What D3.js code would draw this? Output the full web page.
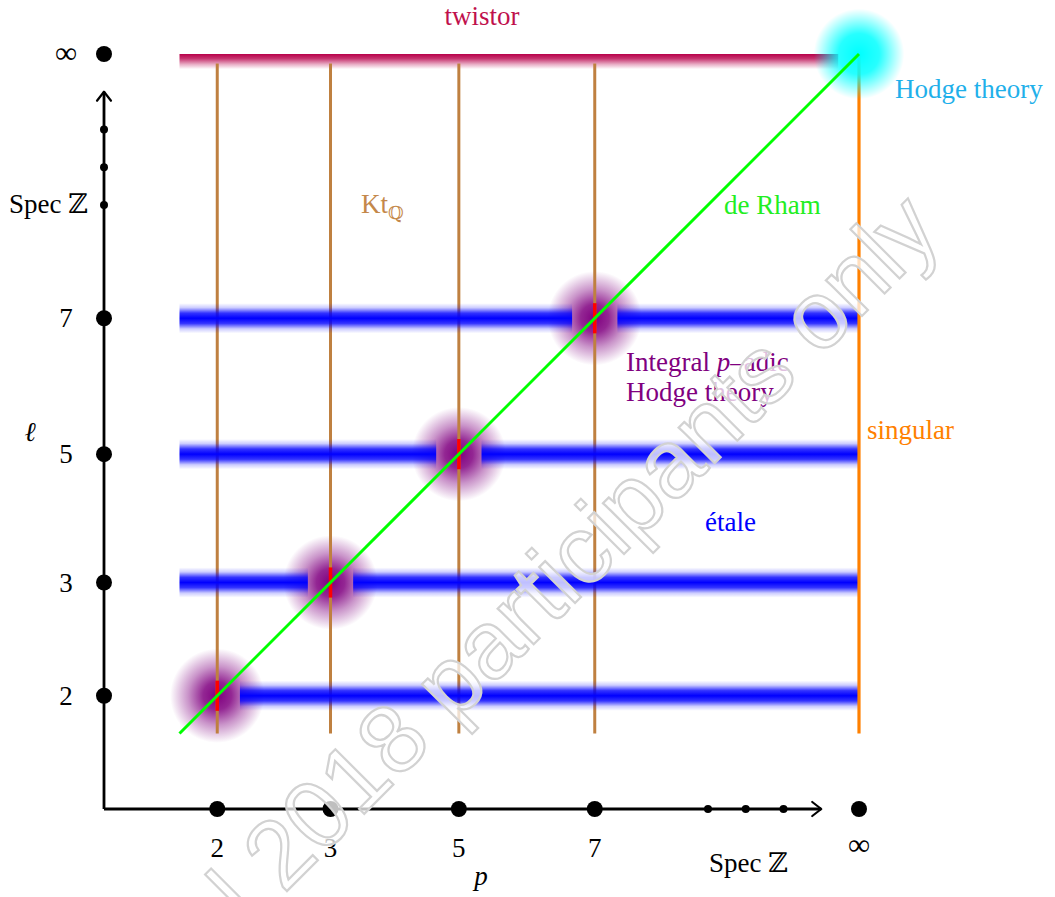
<!DOCTYPE html>
<html>
<head>
<meta charset="utf-8">
<script src="https://cdn.jsdelivr.net/npm/d3@7"></script>
<style>
  body { margin: 0; background: #fff; }
  text { font-family: "Liberation Serif", "DejaVu Serif", serif; }
</style>
</head>
<body>
<svg id="chart"></svg>
<script>
// primes on both axes and where they sit (diagram units)
var primes = ["2", "3", "5", "7"];
var primeAt = [3, 6, 9.4, 13];
var infAt = 20;
var tailDots = [16, 17, 18];
var axisEnd = 19;
var stripFrom = 2;
var twistorTo = 19.45;
var kTop = 19.75;
var gapHalf = 0.6;
var glowR = 1.25;

var screen = { width: 1055, height: 897 };

var x = d3.scaleLinear().domain([0, 20]).range([104, 859]);
var y = d3.scaleLinear().domain([0, 20]).range([809, 54]);
var u = x(1) - x(0);

var svg = d3.select("#chart")
  .attr("width", screen.width)
  .attr("height", screen.height);

var defs = svg.append("defs");

var bandGrad = defs.append("linearGradient")
  .attr("id", "band").attr("x1", 0).attr("y1", 0).attr("x2", 0).attr("y2", 1);
[[0, 0], [0.15, 0.2], [0.33, 0.8], [0.5, 1], [0.67, 0.8], [0.85, 0.2], [1, 0]].forEach(function(s){
  bandGrad.append("stop").attr("offset", s[0]).attr("stop-color", "#0000ff").attr("stop-opacity", s[1]);
});

var twGrad = defs.append("linearGradient")
  .attr("id", "tw").attr("x1", 0).attr("y1", 0).attr("x2", 0).attr("y2", 1);
[[0, 1], [0.3, 0.8], [0.7, 0.3], [1, 0]].forEach(function(s){
  twGrad.append("stop").attr("offset", s[0]).attr("stop-color", "#b8004a").attr("stop-opacity", s[1]);
});

var purp = defs.append("radialGradient").attr("id", "purp");
[[0, 1], [0.3, 0.85], [0.62, 0.42], [1, 0]].forEach(function(s){
  purp.append("stop").attr("offset", s[0]).attr("stop-color", "#800080").attr("stop-opacity", s[1]);
});

var cyan = defs.append("radialGradient").attr("id", "cyan");
[[0, 1], [0.45, 0.85], [0.8, 0.3], [1, 0]].forEach(function(s){
  cyan.append("stop").attr("offset", s[0]).attr("stop-color", "#00ffff").attr("stop-opacity", s[1]);
});

// twistor strip
svg.append("rect")
  .attr("x", x(stripFrom)).attr("y", y(infAt))
  .attr("width", x(twistorTo) - x(stripFrom))
  .attr("height", y(infAt - 0.4) - y(infAt))
  .attr("fill", "url(#tw)");

// purple glows at (l, l)
svg.selectAll(".glow")
  .data(primeAt)
  .enter().append("circle")
  .attr("class", "glow")
  .attr("cx", function(d){ return x(d); })
  .attr("cy", function(d){ return y(d); })
  .attr("r", glowR * u)
  .attr("fill", "url(#purp)");

// Kt_Q vertical lines
svg.selectAll(".kt")
  .data(primeAt)
  .enter().append("line")
  .attr("class", "kt")
  .attr("x1", function(d){ return x(d); })
  .attr("x2", function(d){ return x(d); })
  .attr("y1", y(stripFrom))
  .attr("y2", y(kTop))
  .attr("stroke", "#bf8040")
  .attr("stroke-width", 3);

// etale strips, broken around the diagonal
var pieces = [];
primeAt.forEach(function(l){
  if (l - gapHalf > stripFrom + 0.5) pieces.push([stripFrom, l - gapHalf, l]);
  pieces.push([l + gapHalf, infAt, l]);
});
svg.selectAll(".band")
  .data(pieces)
  .enter().append("rect")
  .attr("class", "band")
  .attr("x", function(d){ return x(d[0]); })
  .attr("width", function(d){ return x(d[1]) - x(d[0]); })
  .attr("y", function(d){ return y(d[2] + 0.4); })
  .attr("height", function(d){ return y(d[2] - 0.4) - y(d[2] + 0.4); })
  .attr("fill", "url(#band)");

// red ticks where p = l
svg.selectAll(".red")
  .data(primeAt)
  .enter().append("line")
  .attr("class", "red")
  .attr("x1", function(d){ return x(d); })
  .attr("x2", function(d){ return x(d); })
  .attr("y1", function(d){ return y(d - 0.4); })
  .attr("y2", function(d){ return y(d + 0.4); })
  .attr("stroke", "#ff0000")
  .attr("stroke-width", 3.5);

// singular line
svg.append("line")
  .attr("x1", x(infAt)).attr("x2", x(infAt))
  .attr("y1", y(stripFrom)).attr("y2", y(infAt))
  .attr("stroke", "#ff8000").attr("stroke-width", 3.2);

// hodge glow
svg.append("circle")
  .attr("cx", x(infAt)).attr("cy", y(infAt))
  .attr("r", 1.2 * u)
  .attr("fill", "url(#cyan)");

// de Rham diagonal
svg.append("line")
  .attr("x1", x(stripFrom)).attr("y1", y(stripFrom))
  .attr("x2", x(infAt)).attr("y2", y(infAt))
  .attr("stroke", "#00ff00").attr("stroke-width", 3);

// axes
var ax = svg.append("g").attr("stroke", "#000").attr("stroke-width", 2.8).attr("fill", "none");
ax.append("path").attr("d", "M" + x(0) + "," + y(0) + "H" + x(axisEnd) + "M" + x(0) + "," + y(0) + "V" + y(axisEnd));
ax.append("path")
  .attr("stroke-width", 2.2).attr("stroke-linecap", "round").attr("stroke-linejoin", "round")
  .attr("d", "M" + (x(axisEnd) - 9) + "," + (y(0) - 7) + "L" + x(axisEnd) + "," + y(0) + "L" + (x(axisEnd) - 9) + "," + (y(0) + 7));
ax.append("path")
  .attr("stroke-width", 2.2).attr("stroke-linecap", "round").attr("stroke-linejoin", "round")
  .attr("d", "M" + (x(0) - 7) + "," + (y(axisEnd) + 9) + "L" + x(0) + "," + y(axisEnd) + "L" + (x(0) + 7) + "," + (y(axisEnd) + 9));

var big = primeAt.concat([infAt]);
svg.selectAll(".bx").data(big).enter().append("circle")
  .attr("cx", function(d){ return x(d); }).attr("cy", y(0)).attr("r", 8).attr("fill", "#000");
svg.selectAll(".by").data(big).enter().append("circle")
  .attr("cx", x(0)).attr("cy", function(d){ return y(d); }).attr("r", 8).attr("fill", "#000");
svg.selectAll(".sx").data(tailDots).enter().append("circle")
  .attr("cx", function(d){ return x(d); }).attr("cy", y(0)).attr("r", 4).attr("fill", "#000");
svg.selectAll(".sy").data(tailDots).enter().append("circle")
  .attr("cx", x(0)).attr("cy", function(d){ return y(d); }).attr("r", 4).attr("fill", "#000");

// tick labels
var fs = 27;
svg.selectAll(".tx").data(primes).enter().append("text")
  .attr("x", function(d, i){ return x(primeAt[i]); })
  .attr("y", y(0) + 48)
  .attr("text-anchor", "middle").attr("font-size", fs)
  .text(function(d){ return d; });
svg.selectAll(".ty").data(primes).enter().append("text")
  .attr("x", 66)
  .attr("y", function(d, i){ return y(primeAt[i]) + 9; })
  .attr("text-anchor", "middle").attr("font-size", fs)
  .text(function(d){ return d; });
svg.append("text").attr("x", x(infAt)).attr("y", y(0) + 46)
  .attr("text-anchor", "middle").attr("font-size", 31).text("\u221e");
svg.append("text").attr("x", 66).attr("y", y(infAt) + 9)
  .attr("text-anchor", "middle").attr("font-size", 31).text("\u221e");

function label(tx, ty, str, col, anchor) {
  return svg.append("text").attr("x", tx).attr("y", ty)
    .attr("font-size", fs).attr("fill", col || "#000")
    .attr("text-anchor", anchor || "start").text(str);
}

label(9, 213, "Spec \u2124");
label(709, 872, "Spec \u2124");
label(30, 441, "\u2113", "#000", "middle").attr("font-style", "italic");
label(481, 885, "p", "#000", "middle").attr("font-style", "italic");

label(482, 25, "twistor", "#c0104c", "middle");
label(895, 98, "Hodge theory", "#1fb0ea");
label(724, 214, "de Rham", "#22ee22");
label(867, 439, "singular", "#ff8000");
label(705, 531, "\u00e9tale", "#0000ff");

var kt = label(361, 213, "Kt", "#c4884a");
kt.append("tspan").attr("font-size", 18).attr("dy", 6).text("\u211a");

var ip = label(626, 371, "Integral ", "#800080");
ip.append("tspan").attr("font-style", "italic").text("p");
ip.append("tspan").text("\u2013adic");
label(626, 401, "Hodge theory", "#800080");

// watermark
svg.append("text")
  .attr("transform", "translate(944,234) rotate(-45)")
  .attr("text-anchor", "end")
  .style("font-family", "'Liberation Sans', Arial, sans-serif")
  .attr("font-size", 96)
  .attr("fill", "#fff").attr("fill-opacity", 0.75)
  .attr("stroke", "#d2d2d2").attr("stroke-width", 2.2)
  .text("School 2018 participants only");
</script>
</body>
</html>
